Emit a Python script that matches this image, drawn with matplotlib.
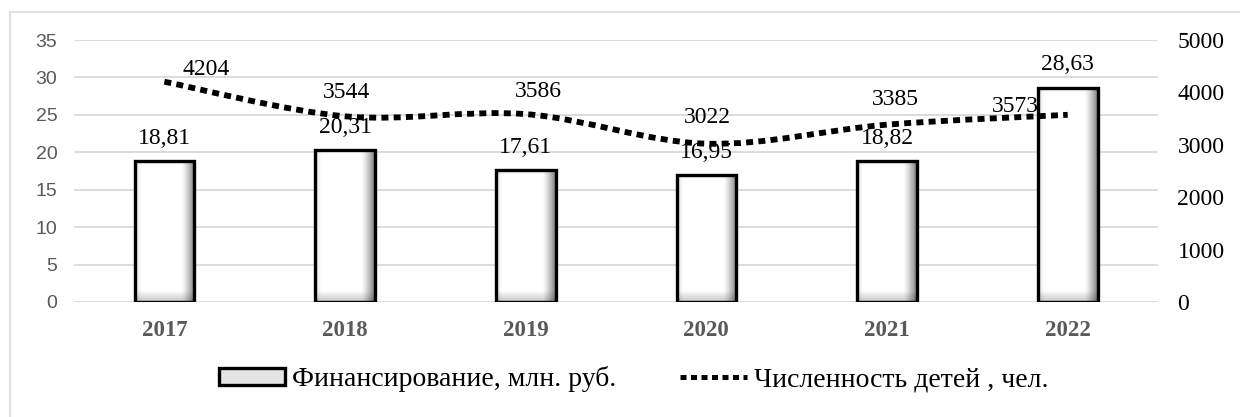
import numpy as np
import matplotlib.pyplot as plt
from matplotlib.path import Path
from matplotlib.patches import PathPatch, Patch
from matplotlib.lines import Line2D

# data
years = ['2017', '2018', '2019', '2020', '2021', '2022']
funding = [18.81, 20.31, 17.61, 16.95, 18.82, 28.63]      # млн. руб.
children = [4204, 3544, 3586, 3022, 3385, 3573]           # чел.
funding_labels = ['18,81', '20,31', '17,61', '16,95', '18,82', '28,63']

# label offsets for the line values (points)
child_offsets = [(30, 9), (1, 17), (9, 16), (1, 19), (6, 18), (-38, 6)]

serif = 'Liberation Serif'
plt.rcParams['font.family'] = serif

fig = plt.figure(figsize=(12.4, 4.17), dpi=100)
ax = fig.add_axes([0.0597, 0.2758, 0.8742, 0.6282])
ax2 = ax.twinx()

x = np.arange(len(years))
bw = 0.33

ax.set_xlim(-0.5, len(years) - 0.5)
ax.set_ylim(0, 35)
ax2.set_ylim(0, 5000)

# bars: outline + shaded bevel fill
ax.bar(x, funding, width=bw, facecolor='none', edgecolor='black',
       linewidth=2.4, zorder=4)

px_per_unit = ax.transData.transform((0, 1))[1] - ax.transData.transform((0, 0))[1]
for xi, v in zip(x, funding):
    h_px = max(int(v * px_per_unit), 2)
    w_px = 56
    u = np.linspace(0, 1, w_px)[None, :]
    t = np.linspace(0, 1, h_px)[:, None] * h_px  # pixels from bottom
    img = np.ones((h_px, w_px))
    r = 0.22
    right = np.clip((u - (1 - r)) / r, 0, 1)
    img = img - 0.5 * right ** 1.3
    left = np.clip(1 - u / 0.1, 0, 1)
    img = img - 0.12 * left
    bot = np.clip(1 - t / 11.0, 0, 1)
    img = img * (1 - 0.22 * bot)
    top = np.clip(1 - (h_px - t) / 5.0, 0, 1)
    img = img * (1 - 0.05 * top)
    img = np.broadcast_to(img, (h_px, w_px))
    ax.imshow(img, extent=[xi - bw / 2, xi + bw / 2, 0, v], origin='lower',
              cmap='gray', vmin=0, vmax=1, aspect='auto', zorder=3,
              interpolation='bilinear')

ax.set_xlim(-0.5, len(years) - 0.5)
ax.set_ylim(0, 35)

for xi, v, lab in zip(x, funding, funding_labels):
    ax.annotate(lab, (xi, v), xytext=(0, 16.5), textcoords='offset points',
                ha='center', va='center', fontsize=17, family=serif, zorder=6)

# smoothed line (Catmull-Rom bezier through the points)
pts = np.column_stack([x, children]).astype(float)
ext = np.vstack([pts[0], pts, pts[-1]])
verts = [tuple(pts[0])]
codes = [Path.MOVETO]
for i in range(len(pts) - 1):
    p0, p1, p2, p3 = ext[i], ext[i + 1], ext[i + 2], ext[i + 3]
    c1 = p1 + (p2 - p0) / 6
    c2 = p2 - (p3 - p1) / 6
    verts += [tuple(c1), tuple(c2), tuple(p2)]
    codes += [Path.CURVE4] * 3
curve = PathPatch(Path(verts, codes), fill=False, edgecolor='black',
                  linewidth=4.2, linestyle=(0, (1.2, 0.9)), capstyle='butt', zorder=5)
ax2.add_patch(curve)

for xi, v, off in zip(x, children, child_offsets):
    ax2.annotate(str(v), (xi, v), xytext=off, textcoords='offset points',
                 ha='center', va='center', fontsize=17, family=serif)

# axes styling
ax.set_yticks(np.arange(0, 36, 5))
ax.grid(axis='y', color='#d9d9d9', linewidth=1.3)
ax.set_axisbelow(True)
ax.set_xticks(x)
ax.set_xticklabels(years, fontsize=16.5, fontweight='bold', color='#595959', family=serif)
ax.tick_params(axis='x', length=0, pad=13)
ax.tick_params(axis='y', length=0, pad=12, labelsize=14, labelcolor='#595959')
for lab in ax.get_yticklabels():
    lab.set_family('Liberation Sans')
ax2.set_yticks(np.arange(0, 5001, 1000))
ax2.tick_params(axis='y', length=0, pad=14, labelsize=17, labelcolor='black')
for a in (ax, ax2):
    for s in a.spines.values():
        s.set_visible(False)

# legend
handles = [Patch(facecolor='#e4e4e4', edgecolor='black', linewidth=2.4),
           Line2D([], [], color='black', linewidth=3.6, linestyle=(0, (1.2, 0.9)),
                  solid_capstyle='butt', dash_capstyle='butt')]
fig.legend(handles, ['Финансирование, млн. руб.', 'Численность детей , чел.'],
           loc='center', bbox_to_anchor=(0.511, 0.09), ncol=2, frameon=False,
           fontsize=20, handlelength=2.4, handleheight=0.55, handletextpad=0.25,
           columnspacing=2.3)

# outer frame
fig.add_artist(Line2D([10 / 1240, 10 / 1240], [0, 1 - 12 / 417], color='#d9d9d9',
                      linewidth=1.2, transform=fig.transFigure))
fig.add_artist(Line2D([10 / 1240, 1], [1 - 12 / 417, 1 - 12 / 417], color='#d9d9d9',
                      linewidth=1.2, transform=fig.transFigure))

fig.savefig('out.png', dpi=100)
